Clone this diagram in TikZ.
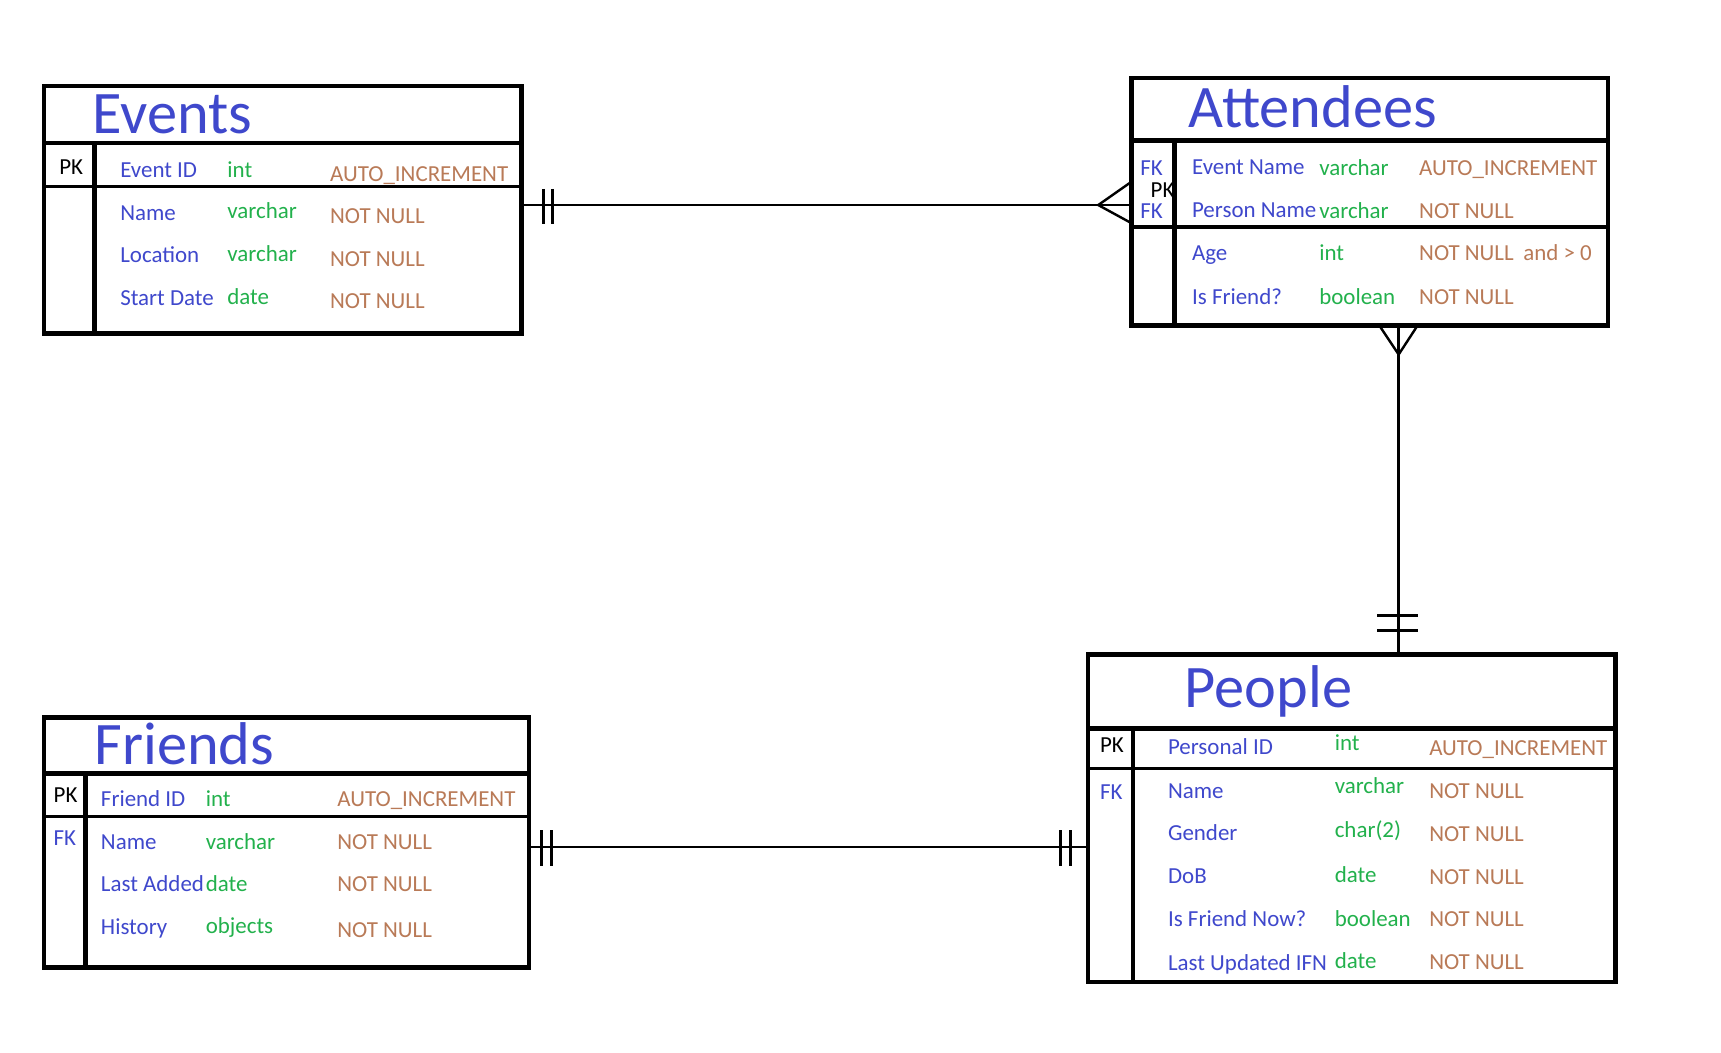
\documentclass[tikz,border=0pt]{standalone}
\usepackage{fontspec}
\setmainfont{Carlito}
\definecolor{tblue}{RGB}{63,72,204}
\definecolor{tgreen}{RGB}{34,177,76}
\definecolor{tbrown}{RGB}{185,122,87}
\tikzset{
  tbl/.style={draw, line width=4pt, rectangle, inner sep=0pt, outer sep=0pt, anchor=north west},
  rowsep/.style={line width=3pt},
  titlesep/.style={line width=4.5pt},
  divline/.style={line width=4pt},
  conn/.style={line width=2.2pt},
  barline/.style={line width=2.7pt},
  ttl/.style={anchor=base west, inner sep=0pt, text=tblue, font=\fontsize{55}{60}\selectfont},
  fld/.style={anchor=base west, inner sep=0pt, text=tblue, font=\fontsize{20.9}{24}\selectfont},
  typ/.style={fld, text=tgreen},
  cons/.style={fld, text=tbrown},
  keyk/.style={fld, text=black},
  keyf/.style={fld, text=tblue}
}
\begin{document}
\begin{tikzpicture}[x=1pt,y=-1pt]
\useasboundingbox[fill=white] (0,0) rectangle (1568,959);

% ---------- Events text ----------
\node[ttl] (evT) at (84,122) {Events};
\node[keyk] (evPK) at (53.9,159) {PK};
\node[fld] (ev1a) at (109.4,162) {Event ID};
\node[typ] (ev1b) at (207,162) {int};
\node[cons] (ev1c) at (300.6,165) {AUTO\_INCREMENT};
\node[fld] (ev2a) at (109.4,201) {Name};
\node[typ] (ev2b) at (207,199) {varchar};
\node[cons] (ev2c) at (300.6,204) {NOT NULL};
\node[fld] (ev3a) at (109.4,239.6) {Location};
\node[typ] (ev3b) at (207,238) {varchar};
\node[cons] (ev3c) at (300.6,243) {NOT NULL};
\node[fld] (ev4a) at (109.4,278) {Start Date};
\node[typ] (ev4b) at (207,277) {date};
\node[cons] (ev4c) at (300.6,281) {NOT NULL};

% ---------- Attendees text ----------
\node[ttl] (atT) at (1082.7,116) {Attendees};
\node[keyf] (atFK1) at (1038.8,160) {FK};
\node[keyk] (atPK) at (1048.2,179.8) {PK};
\node[keyf] (atFK2) at (1038.8,198.7) {FK};
\node[fld] (at1a) at (1085.9,159.4) {Event Name};
\node[typ] (at1b) at (1201.8,160) {varchar};
\node[cons] (at1c) at (1292.8,160) {AUTO\_INCREMENT};
\node[fld] (at2a) at (1085.9,198) {Person Name};
\node[typ] (at2b) at (1201.8,198.7) {varchar};
\node[cons] (at2c) at (1292.8,198.7) {NOT NULL};
\node[fld] (at3a) at (1085.9,237.6) {Age};
\node[typ] (at3b) at (1201.8,237.6) {int};
\node[cons] (at3c) at (1292.8,237.6) {NOT NULL};
\node[cons] (at3d) at (1387.7,237.6) {and > 0};
\node[fld] (at4a) at (1085.9,277) {Is Friend?};
\node[typ] (at4b) at (1201.8,277) {boolean};
\node[cons] (at4c) at (1292.8,277) {NOT NULL};

% ---------- People text ----------
\node[ttl] (peT) at (1079.2,645) {People};
\node[keyk] (pePK) at (1002,686) {PK};
\node[keyf] (peFK) at (1002,728.8) {FK};
\node[fld] (pe1a) at (1064,687.7) {Personal ID};
\node[typ] (pe1b) at (1215.9,683.7) {int};
\node[cons] (pe1c) at (1302,688.3) {AUTO\_INCREMENT};
\node[fld] (pe2a) at (1064,727.3) {Name};
\node[typ] (pe2b) at (1215.9,723.3) {varchar};
\node[cons] (pe2c) at (1302,727.9) {NOT NULL};
\node[fld] (pe3a) at (1064,766) {Gender};
\node[typ] (pe3b) at (1215.9,763) {char(2)};
\node[cons] (pe3c) at (1302,766.9) {NOT NULL};
\node[fld] (pe4a) at (1064,805) {DoB};
\node[typ] (pe4b) at (1215.9,804.3) {date};
\node[cons] (pe4c) at (1302,805.6) {NOT NULL};
\node[fld] (pe5a) at (1064,844.5) {Is Friend Now?};
\node[typ] (pe5b) at (1215.9,843.9) {boolean};
\node[cons] (pe5c) at (1302,844.5) {NOT NULL};
\node[fld] (pe6a) at (1064,884.1) {Last Updated IFN};
\node[typ] (pe6b) at (1215.9,882.6) {date};
\node[cons] (pe6c) at (1302,883.5) {NOT NULL};

% ---------- Friends text ----------
\node[ttl] (frT) at (86,696.8) {Friends};
\node[keyk] (frPK) at (48.7,730.8) {PK};
\node[keyf] (frFK) at (48.7,770) {FK};
\node[fld] (fr1a) at (91.8,734.5) {Friend ID};
\node[typ] (fr1b) at (187.3,734.5) {int};
\node[cons] (fr1c) at (307.2,734.5) {AUTO\_INCREMENT};
\node[fld] (fr2a) at (91.8,773.6) {Name};
\node[typ] (fr2b) at (187.3,773.6) {varchar};
\node[cons] (fr2c) at (307.2,773.6) {NOT NULL};
\node[fld] (fr3a) at (91.8,812) {Last Added};
\node[typ] (fr3b) at (187.3,812) {date};
\node[cons] (fr3c) at (307.2,812) {NOT NULL};
\node[fld] (fr4a) at (91.8,851.2) {History};
\node[typ] (fr4b) at (187.3,850.3) {objects};
\node[cons] (fr4c) at (307.2,854.2) {NOT NULL};

% ---------- Tables ----------
\node[tbl, minimum width=435pt, minimum height=225.7pt] (events) at (40,78.3) {};
\draw[titlesep] (40,130.3) -- (475,130.3);
\draw[rowsep] (40,170) -- (475,170);
\draw[divline] (86,130.3) -- (86,304);

\node[tbl, minimum width=434pt, minimum height=225.6pt] (attendees) at (1031,71) {};
\draw[titlesep] (1031,127.8) -- (1465,127.8);
\draw[rowsep] (1031,206.7) -- (1465,206.7);
\draw[divline] (1070,127.8) -- (1070,296.6);

\node[tbl, minimum width=481pt, minimum height=298.5pt] (people) at (991,596.3) {};
\draw[titlesep] (991,663.4) -- (1472,663.4);
\draw[rowsep] (991,700.1) -- (1472,700.1);
\draw[divline] (1032.5,663.4) -- (1032.5,894.8);

\node[tbl, minimum width=442pt, minimum height=227.5pt] (friends) at (40,653.8) {};
\draw[titlesep] (40,704.5) -- (482,704.5);
\draw[rowsep] (40,744.1) -- (482,744.1);
\draw[divline] (77.9,704.5) -- (77.9,881.3);

% ---------- Connectors ----------
\coordinate (ea) at (0,186.8);
\coordinate (ap) at (1274.3,0);
\coordinate (fp) at (0,771.8);

% Events -- Attendees
\draw[conn] (events.east |- ea) -- (attendees.west |- ea);
\draw[barline] (495,172) -- (495,203.7);
\draw[barline] (503.5,172) -- (503.5,203.7);
\coordinate (cfA) at (1000.6,186.8);
\draw[conn] (attendees.west |- 0,165.5) -- (cfA) -- (attendees.west |- 0,203.4);

% Attendees -- People
\draw[conn] (attendees.south -| ap) -- (people.north -| ap);
\coordinate (cfB) at (1274.3,323);
\draw[conn] (1256.7,296.6) -- (cfB) -- (1291.5,296.6);
\draw[barline] (1255,560.8) -- (1292,560.8);
\draw[barline] (1255,574.5) -- (1292,574.5);

% Friends -- People
\draw[conn] (friends.east |- fp) -- (people.west |- fp);
\draw[barline] (493.7,756.6) -- (493.7,789);
\draw[barline] (502.5,756.6) -- (502.5,789);
\draw[barline] (966.3,756.6) -- (966.3,789);
\draw[barline] (975.3,756.6) -- (975.3,789);
\end{tikzpicture}
\end{document}
